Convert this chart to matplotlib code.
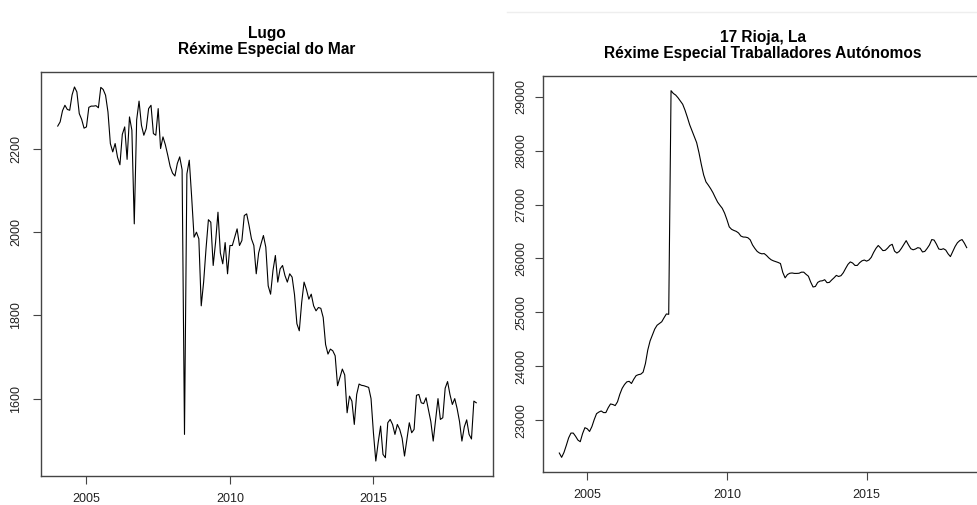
import numpy as np
import matplotlib
matplotlib.use('Agg')
import matplotlib.pyplot as plt
from matplotlib.lines import Line2D

plt.rcParams['font.family'] = ['Liberation Sans', 'DejaVu Sans']

# Serie mensual, xaneiro 2004 - agosto 2018
inicio = 2004
lugo_mar = [2255, 2265, 2292, 2305, 2295, 2293, 2330, 2349, 2337, 2285, 2271, 2250,
            2253, 2300, 2303, 2303, 2304, 2299, 2348, 2343, 2329, 2289, 2213, 2193,
            2213, 2180, 2162, 2235, 2253, 2175, 2277, 2245, 2020, 2270, 2315, 2257,
            2233, 2249, 2297, 2305, 2237, 2233, 2297, 2201, 2229, 2210, 2185, 2158,
            2142, 2135, 2165, 2181, 2150, 1514, 2140, 2173, 2084, 1988, 2000, 1984,
            1823, 1880, 1960, 2030, 2024, 1920, 1976, 2048, 1950, 1924, 1975, 1900,
            1968, 1968, 1988, 2008, 1968, 1980, 2040, 2044, 2016, 1984, 1968, 1900,
            1950, 1972, 1992, 1964, 1871, 1851, 1908, 1944, 1880, 1912, 1920, 1896,
            1880, 1900, 1892, 1850, 1780, 1763, 1831, 1880, 1862, 1839, 1851, 1823,
            1811, 1819, 1817, 1795, 1730, 1707, 1719, 1715, 1703, 1631, 1651, 1671,
            1657, 1566, 1606, 1594, 1538, 1610, 1635, 1632, 1631, 1629, 1627, 1600,
            1518, 1450, 1495, 1534, 1466, 1458, 1542, 1550, 1538, 1514, 1538, 1526,
            1505, 1462, 1502, 1542, 1518, 1526, 1608, 1610, 1590, 1588, 1602, 1574,
            1545, 1498, 1548, 1600, 1550, 1554, 1625, 1641, 1610, 1586, 1600, 1576,
            1545, 1498, 1532, 1549, 1514, 1503, 1594, 1590]

rioja_autonomos = [22390, 22310, 22400, 22530, 22670, 22760, 22760, 22700, 22630, 22600, 22750, 22860,
                   22840, 22790, 22880, 23010, 23120, 23150, 23170, 23140, 23140, 23230, 23300, 23290,
                   23270, 23340, 23480, 23590, 23660, 23710, 23720, 23680, 23760, 23826, 23844, 23853,
                   23890, 24050, 24300, 24470, 24580, 24690, 24760, 24793, 24825, 24900, 24970, 24963,
                   29112, 29060, 29030, 28980, 28920, 28860, 28750, 28620, 28480, 28370, 28255, 28148,
                   27961, 27744, 27550, 27420, 27360, 27295, 27220, 27130, 27045, 26985, 26930, 26840,
                   26720, 26585, 26540, 26519, 26502, 26472, 26415, 26397, 26395, 26384, 26345, 26250,
                   26185, 26130, 26100, 26085, 26090, 26055, 26010, 25975, 25955, 25940, 25925, 25905,
                   25740, 25640, 25700, 25725, 25730, 25722, 25722, 25725, 25745, 25745, 25705, 25670,
                   25560, 25470, 25480, 25555, 25580, 25585, 25605, 25550, 25555, 25600, 25640, 25685,
                   25665, 25680, 25735, 25815, 25890, 25935, 25915, 25870, 25870, 25920, 25955, 25970,
                   25950, 25970, 26020, 26110, 26185, 26240, 26195, 26145, 26150, 26190, 26240, 26262,
                   26135, 26100, 26130, 26190, 26260, 26330, 26250, 26180, 26160, 26175, 26200, 26189,
                   26120, 26130, 26185, 26250, 26350, 26340, 26265, 26175, 26165, 26180, 26155, 26085,
                   26034, 26127, 26220, 26290, 26330, 26350, 26283, 26200]

anios_ticks = [2005, 2010, 2015]
ticks_lugo = [1600, 1800, 2000, 2200]
ticks_rioja = [23000, 24000, 25000, 26000, 27000, 28000, 29000]

titulo_lugo = 'Lugo\nRéxime Especial do Mar'
titulo_rioja = '17 Rioja, La\nRéxime Especial Traballadores Autónomos'


def graficar(ax, valores, titulo, yticks, pad_y):
    fechas = inicio + np.arange(len(valores)) / 12
    ax.plot(fechas, valores, color='black', linewidth=0.8)
    ax.margins(x=0.04, y=0.04)
    ax.set_xticks(anios_ticks)
    ax.set_yticks(yticks)
    ax.set_yticklabels([str(v) for v in yticks], rotation=90, va='center')
    ax.tick_params(direction='out', length=5.5, width=0.8, color='#444444',
                   labelcolor='#222222', labelsize=9)
    ax.tick_params(axis='x', pad=7)
    ax.tick_params(axis='y', pad=pad_y)
    for s in ax.spines.values():
        s.set_color('#444444')
        s.set_linewidth(1.0)
    ax.set_title(titulo, fontweight='bold', fontsize=11.2, pad=13, linespacing=1.05)


fig = plt.figure(figsize=(9.77, 5.05), dpi=100)

ax1 = fig.add_axes([41 / 977, 1 - 476 / 505, 452 / 977, 404 / 505])
graficar(ax1, lugo_mar, titulo_lugo, ticks_lugo, 8)

ax2 = fig.add_axes([543 / 977, 1 - 472 / 505, 440 / 977, 396 / 505])
graficar(ax2, rioja_autonomos, titulo_rioja, ticks_rioja, 5.5)

# liña tenue no borde superior da segunda imaxe
fig.add_artist(Line2D([507 / 977, 1], [1 - 12 / 505, 1 - 12 / 505],
                      transform=fig.transFigure, color='#eeeeee', linewidth=1))

fig.savefig('out.png', dpi=100)
